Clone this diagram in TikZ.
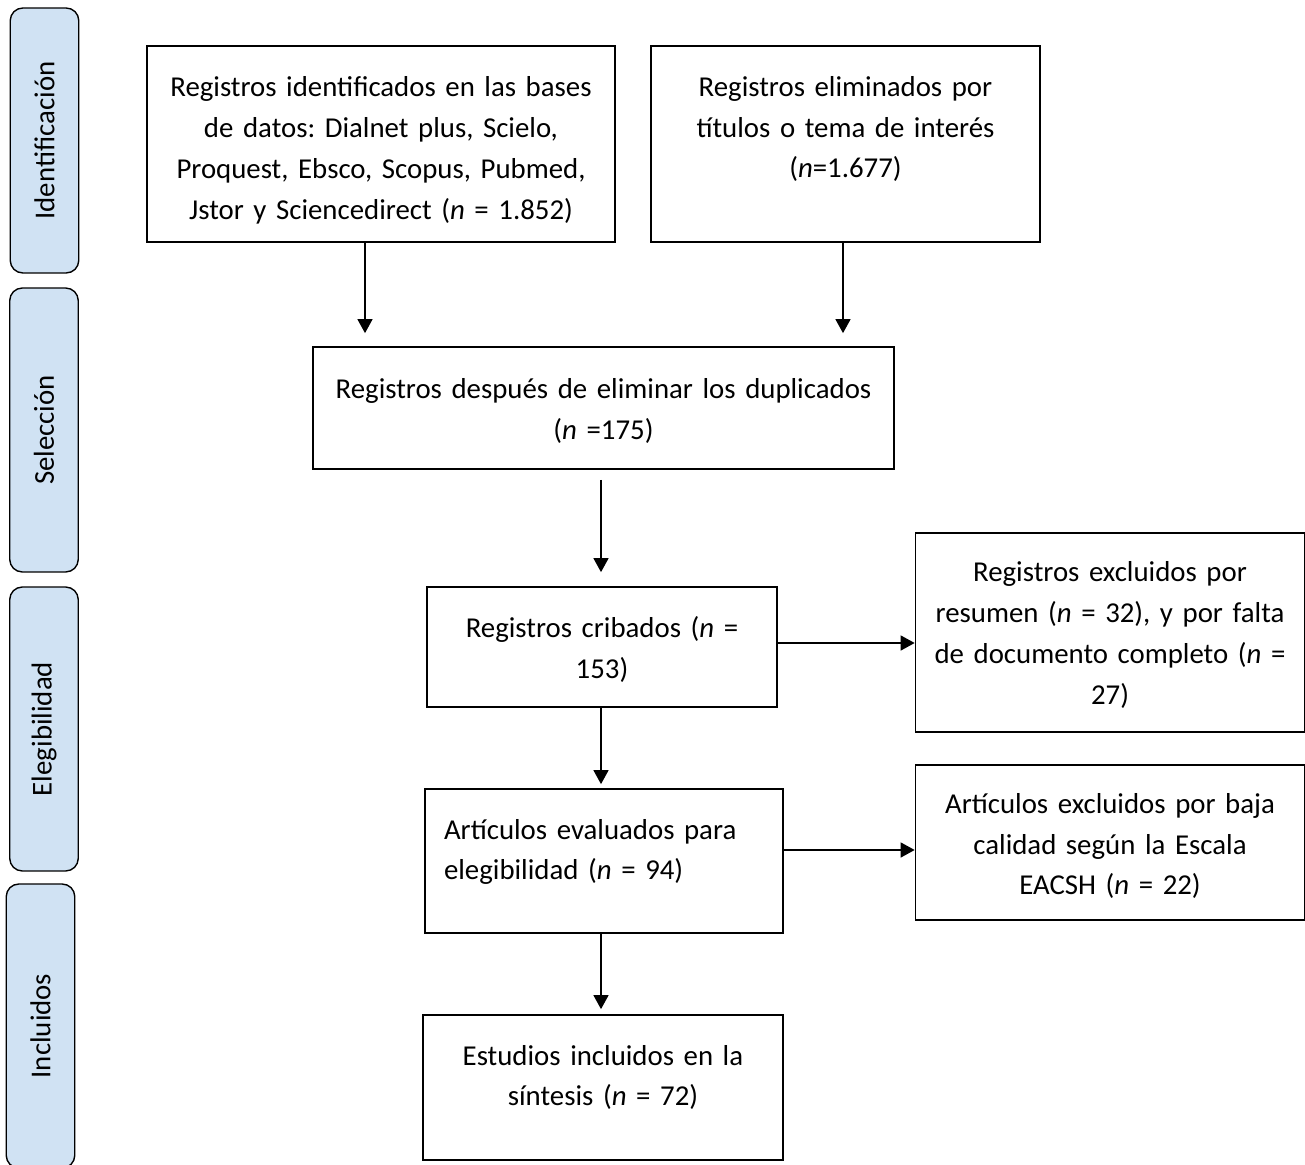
\documentclass[tikz,border=0pt]{standalone}
\usepackage{fontspec}
\setmainfont{Carlito}
\usetikzlibrary{arrows.meta}
\definecolor{sidefill}{RGB}{208,226,243}
\frenchspacing

\begin{document}
\begin{tikzpicture}[x=0.02cm, y=-0.02cm,
        every node/.style={font=\fontsize{16.4pt}{23.3pt}\selectfont},
        box/.style={draw, line width=1pt, inner xsep=0.1cm, inner ysep=0pt, align=center},
        sidebar/.style={draw, line width=0.8pt, fill=sidefill, rounded corners=0.25cm, rotate=90,
            minimum height=1.37cm, inner sep=0pt},
        lift/.style={execute at end node={\endgraf\vspace{#1}}},
        flow/.style={line width=0.8pt, -{Triangle[width=0.3cm, length=0.28cm]}}]
        \clip (0, 0) rectangle (1305, 1165);
        % stage bars on the left
        \node[sidebar, minimum width=5.3cm] (ident) at (44.5, 140.5) {Identificación};
        \node[sidebar, minimum width=5.68cm] (selec) at (44, 430) {Selección};
        \node[sidebar, minimum width=5.68cm] (elegi) at (44, 729) {Elegibilidad};
        \node[sidebar, minimum width=5.68cm] (inclu) at (40.5, 1026) {Incluidos};
        
        % boxes from top to down
        \node[box, lift=-0.24cm, minimum width=9.36cm, minimum height=3.92cm, text width=9.16cm] (regid) at (381, 144)
            {Registros identificados en las bases\\de datos: Dialnet plus, Scielo,\\Proquest, Ebsco, Scopus, Pubmed,\\Jstor y Sciencedirect (\textit{n} = 1.852)};
        \node[box, lift=0.6cm, minimum width=7.78cm, minimum height=3.92cm, text width=7.58cm] (regel) at (845.5, 144)
            {Registros eliminados por\\títulos o tema de interés\\(\textit{n}=1.677)};
        \node[box, lift=-0.12cm, minimum width=11.62cm, minimum height=2.44cm, text width=11.42cm] (regdup) at (603.5, 408)
            {Registros después de eliminar los duplicados\\(\textit{n} =175)};
        \node[box, lift=-0.08cm, minimum width=7cm, minimum height=2.4cm, text width=6.8cm] (regcri) at (602, 647)
            {Registros cribados (\textit{n} =\\153)};
        \node[box, lift=-0.1cm, minimum width=7.78cm, minimum height=3.98cm, text width=7.58cm] (regexc) at (1110, 632.5)
            {Registros excluidos por\\resumen (\textit{n} = 32), y por falta\\de documento completo (\textit{n} =\\27)};
        \node[box, lift=0.36cm, align=left, inner xsep=0.38cm, minimum width=7.16cm, minimum height=2.88cm, text width=6.4cm] (arteva) at (604, 861)
            {Artículos evaluados para\\elegibilidad (\textit{n} = 94)};
        \node[box, lift=-0.14cm, minimum width=7.78cm, minimum height=3.1cm, text width=7.58cm] (artexc) at (1110, 842.5)
            {Artículos excluidos por baja\\calidad según la Escala\\EACSH (\textit{n} = 22)};
        \node[box, lift=0.4cm, minimum width=7.2cm, minimum height=2.9cm, text width=7cm] (estinc) at (603, 1087.5)
            {Estudios incluidos en la\\síntesis (\textit{n} = 72)};
        
        % arrows down
        \draw[flow, shorten >=0.26cm] ([xshift=-0.32cm]regid.south) -- ([xshift=-0.32cm]regid.south |- regdup.north);
        \draw[flow, shorten >=0.26cm] ([xshift=-0.05cm]regel.south) -- ([xshift=-0.05cm]regel.south |- regdup.north);
        \draw[flow, shorten <=0.2cm, shorten >=0.28cm] ([xshift=-0.05cm]regdup.south) -- ([xshift=-0.05cm]regdup.south |- regcri.north);
        \draw[flow, shorten >=0.08cm] ([xshift=-0.02cm]regcri.south) -- ([xshift=-0.02cm]regcri.south |- arteva.north);
        \draw[flow, shorten >=0.1cm] ([xshift=-0.06cm]arteva.south) -- ([xshift=-0.06cm]arteva.south |- estinc.north);
        % arrows to the right
        \draw[flow] ([yshift=0.08cm]regcri.east) -- ([yshift=0.08cm]regcri.east -| regexc.west);
        \draw[flow] ([yshift=0.22cm]arteva.east) -- ([yshift=0.22cm]arteva.east -| artexc.west);
    \end{tikzpicture}
\end{document}
